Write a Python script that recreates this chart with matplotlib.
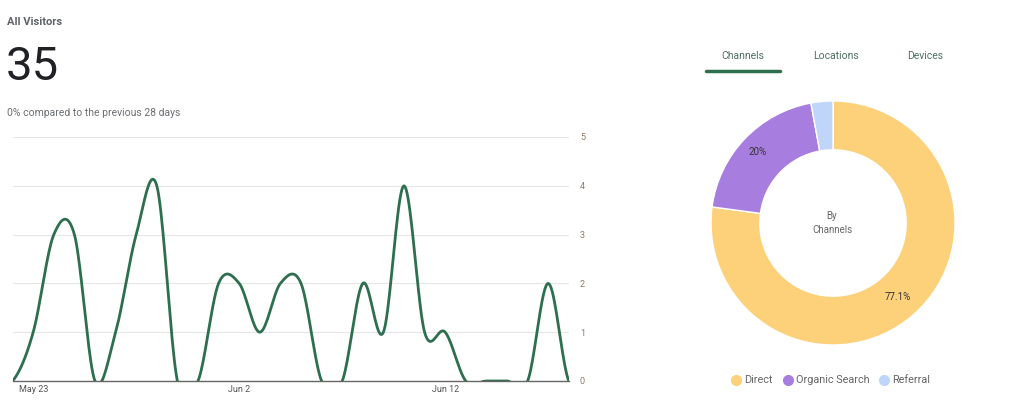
import matplotlib
matplotlib.use("Agg")
import matplotlib.pyplot as plt
import numpy as np

plt.rcParams['font.family'] = ['Roboto', 'DejaVu Sans']

# daily visitors, May 22 - Jun 18
visitors = [0, 1, 3, 3, 0, 1, 3, 4, 0, 0, 2, 2, 1, 2, 2, 0, 0, 2, 1, 4, 1, 1, 0, 0, 0, 0, 2, 0]
tick_pos = [1, 11, 21]
tick_labels = ["May 23", "Jun 2", "Jun 12"]

channels = ["Direct", "Organic Search", "Referral"]
shares = [77.1, 20.0, 2.9]
colors = ["#FDD07A", "#A87DE0", "#BFD6FA"]

tabs = ["Channels", "Locations", "Devices"]


def smooth(y, n=20):
    # catmull-rom curve through the points
    y = np.asarray(y, float)
    p = np.concatenate([[y[0]], y, [y[-1]]])
    xs, ys = [], []
    for i in range(len(y) - 1):
        p0, p1, p2, p3 = p[i], p[i + 1], p[i + 2], p[i + 3]
        t = np.linspace(0, 1, n, endpoint=False)
        m1 = (p2 - p0) / 2
        m2 = (p3 - p1) / 2
        h00 = 2 * t**3 - 3 * t**2 + 1
        h10 = t**3 - 2 * t**2 + t
        h01 = -2 * t**3 + 3 * t**2
        h11 = t**3 - t**2
        xs.append(i + t)
        ys.append(h00 * p1 + h10 * m1 + h01 * p2 + h11 * m2)
    xs.append([len(y) - 1])
    ys.append([y[-1]])
    return np.concatenate(xs), np.concatenate(ys)


fig = plt.figure(figsize=(10.24, 4.13), dpi=100)
W, H = 1024, 413

# header text
fig.text(7 / W, 1 - 22 / H, "All Visitors", fontsize=8, fontweight="bold", color="#5f6368", va="center")
fig.text(6 / W, 1 - 67 / H, "35", fontsize=34, color="#202124", va="center")
fig.text(7 / W, 1 - 113 / H, "0% compared to the previous 28 days", fontsize=7.5, color="#6b6f73", va="center")

# line chart
ax = fig.add_axes([12.6 / W, (H - 381) / H, (568.8 - 12.6) / W, (381 - 137) / H])
x, y = smooth(visitors)
ax.plot(x, y, color="#2E6F4F", lw=2, solid_capstyle="round", clip_on=True)
ax.set_xlim(0, len(visitors) - 1)
ax.set_ylim(0, 5)
ax.set_yticks(range(6))
ax.yaxis.tick_right()
ax.tick_params(axis="y", length=0, labelsize=6.5, labelcolor="#8a7a66", pad=8)
ax.set_xticks(tick_pos)
ax.set_xticklabels(tick_labels)
ax.tick_params(axis="x", length=0, labelsize=6.5, labelcolor="#555555", pad=3)
ax.grid(axis="y", color="#e6e6e6", lw=0.8)
for s in ["left", "right", "top"]:
    ax.spines[s].set_visible(False)
ax.spines["bottom"].set_color("#666666")
ax.spines["bottom"].set_linewidth(1)
ax.spines["bottom"].set_zorder(5)
ax.set_axisbelow(True)

# tabs
tab_x = [743, 836, 925]
for t, tx in zip(tabs, tab_x):
    fig.text(tx / W, 1 - 56 / H, t, fontsize=7.5, color="#4f6f60", ha="center", va="center")
fig.add_artist(plt.Line2D([706 / W, 780 / W], [1 - 71 / H, 1 - 71 / H], color="#2E6F4F", lw=2.5,
                          solid_capstyle="round"))

# donut
cx, cy, r = 833, 223, 122
pax = fig.add_axes([(cx - r) / W, (H - cy - r) / H, 2 * r / W, 2 * r / H])
pax.pie(shares, colors=colors, startangle=90, counterclock=False, radius=1,
        wedgeprops=dict(width=0.4, edgecolor="white", linewidth=1))
pax.set_xlim(-1, 1)
pax.set_ylim(-1, 1)
pax.set_aspect("equal")
pax.axis("off")

fig.text(758 / W, 1 - 152 / H, "20%", fontsize=7, color="#333333", ha="center", va="center")
fig.text(898 / W, 1 - 297 / H, "77.1%", fontsize=7, color="#333333", ha="center", va="center")
fig.text(832 / W, 1 - 216 / H, "By", fontsize=7, color="#666666", ha="center", va="center")
fig.text(832 / W, 1 - 230 / H, "Channels", fontsize=7, color="#666666", ha="center", va="center")

# legend
leg_x = [736, 788, 884]
for name, c, lx in zip(channels, colors, leg_x):
    fig.add_artist(plt.Line2D([lx / W], [1 - 380 / H], marker="o", markersize=7, color=c, lw=0))
    fig.text((lx + 8) / W, 1 - 380 / H, name, fontsize=7.8, color="#666666", va="center")

fig.savefig("out.png", dpi=100, facecolor="white")
